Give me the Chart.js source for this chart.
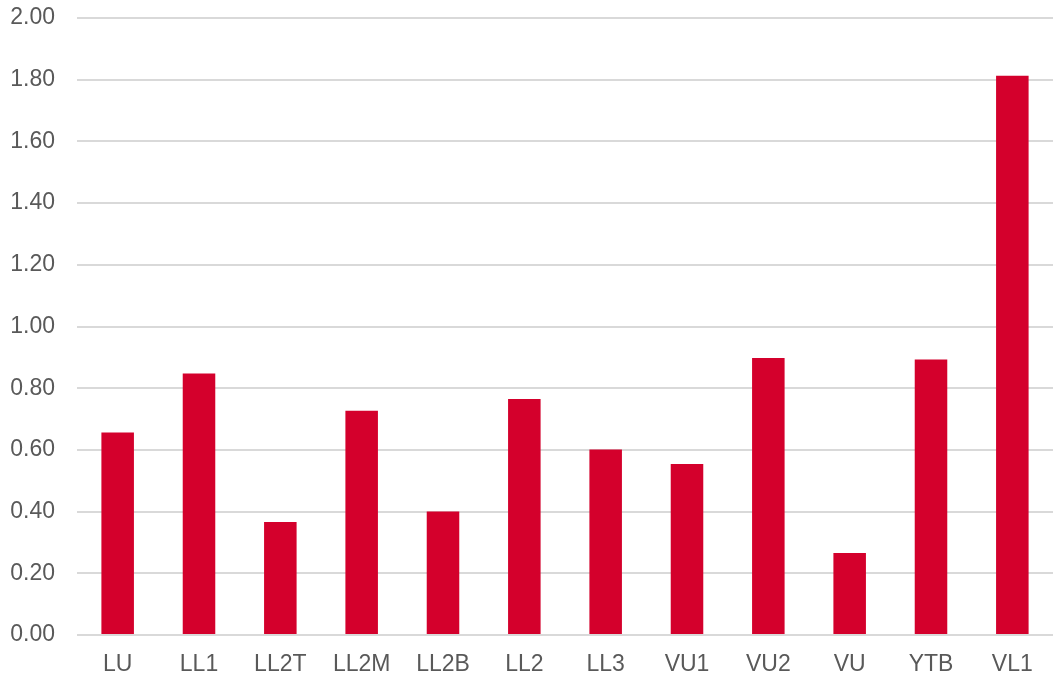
<!DOCTYPE html>
<html>
<head>
<meta charset="utf-8">
<script src="https://cdn.jsdelivr.net/npm/chart.js@4"></script>
<style>
html,body{margin:0;padding:0;background:#fff;}
#wrap{width:1053px;height:676px;}
</style>
</head>
<body>
<div id="wrap"><canvas id="c" width="1053" height="676"></canvas></div>
<script>
const categories = ["LU","LL1","LL2T","LL2M","LL2B","LL2","LL3","VU1","VU2","VU","YTB","VL1"];
const values = [0.656, 0.848, 0.366, 0.727, 0.400, 0.765, 0.601, 0.554, 0.898, 0.266, 0.893, 1.813];
const yTicks = [0, 0.2, 0.4, 0.6, 0.8, 1.0, 1.2, 1.4, 1.6, 1.8, 2.0];

new Chart(document.getElementById('c'), {
  type: 'bar',
  data: {
    labels: categories,
    datasets: [{
      data: values,
      backgroundColor: '#d4002c',
      borderWidth: 0,
      categoryPercentage: 1,
      barPercentage: 0.4
    }]
  },
  options: {
    responsive: false,
    animation: false,
    devicePixelRatio: 1,
    layout: { padding: { top: 0, right: 0, bottom: 0, left: 0 } },
    plugins: { legend: { display: false }, tooltip: { enabled: false } },
    scales: {
      x: {
        grid: { display: false, drawTicks: false },
        border: { display: false },
        ticks: { color: '#595959', font: { family: 'Liberation Sans, Arial', size: 23 }, padding: 16 },
        afterFit: s => { s.height = 41; s.paddingLeft = 0; s.paddingRight = 0; }
      },
      y: {
        min: 0, max: 2,
        afterBuildTicks: s => { s.ticks = yTicks.map(v => ({ value: v })); },
        grid: { color: '#d9d9d9', lineWidth: 2, drawTicks: false },
        border: { display: false },
        ticks: { color: '#595959', font: { family: 'Liberation Sans, Arial', size: 23 }, padding: 22,
          callback: v => Number(v).toFixed(2) },
        afterFit: s => { s.width = 77; s.paddingTop = 18; s.paddingBottom = 0; }
      }
    }
  }
});
</script>
</body>
</html>
